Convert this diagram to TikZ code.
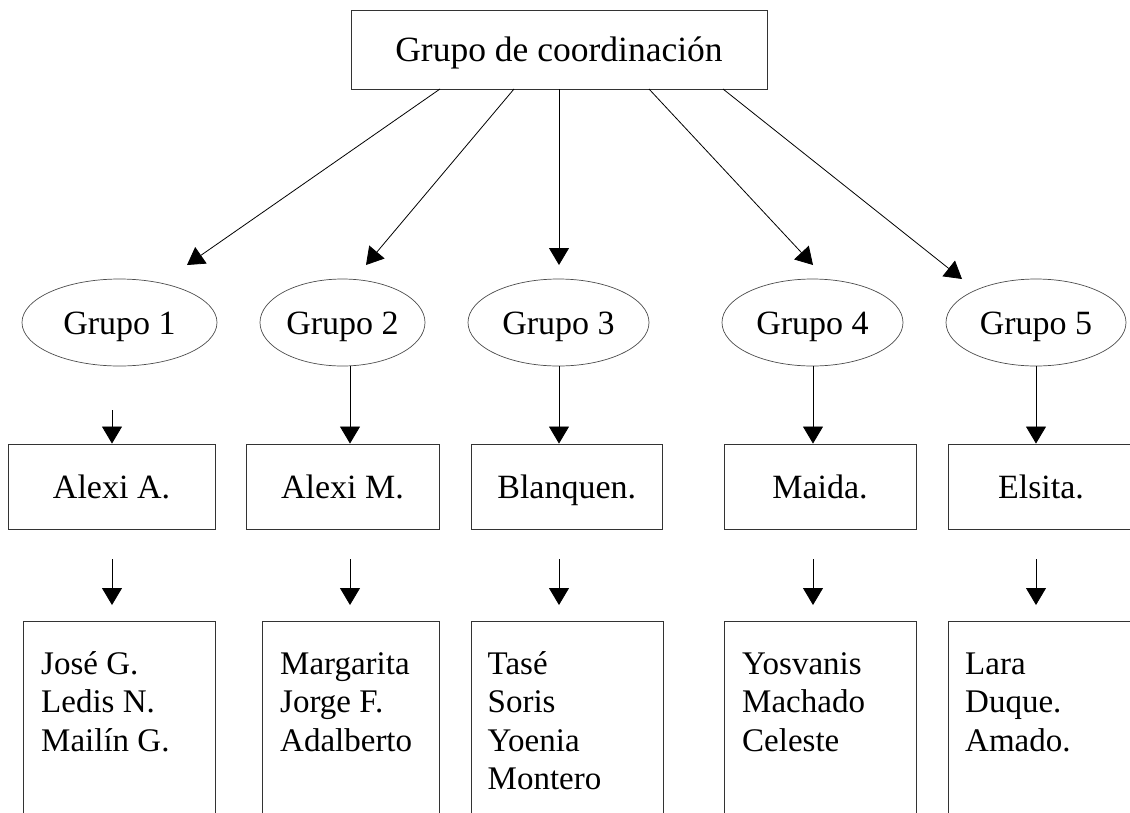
\documentclass[tikz,border=0pt]{standalone}
\usepackage{fontspec}
\setmainfont{Liberation Serif}
\usetikzlibrary{arrows.meta,calc,shapes.geometric}
\newcommand{\firststrut}{\rule{0pt}{32pt}}
\begin{document}
\begin{tikzpicture}[x=1pt,y=-1pt,
  box/.style={draw=black!80, line width=0.9pt, rectangle, inner sep=0pt},
  oval/.style={draw=black!70, line width=0.7pt, ellipse, inner sep=0pt, minimum height=87pt},
  lbl/.style={font=\fontsize{34}{40}\selectfont, text height=23pt, text depth=0pt},
  toplbl/.style={font=\fontsize{35.5}{40}\selectfont, text height=24pt, text depth=0pt},
  names/.style={align=left, inner sep=0pt, anchor=north west, font=\fontsize{33}{38.5}\selectfont},
  arr/.style={line width=0.8pt, draw=black, -{Triangle[width=20pt,length=17pt]}},
]
\useasboundingbox (0,0) rectangle (1130,812);
\clip (0,0) rectangle (1130,812);

% top box
\node[box, toplbl, minimum width=416pt, minimum height=79pt] (top) at (559,49.5) {Grupo de coordinación};

% ellipses
\node[oval, lbl, minimum width=195pt] (g1) at (119.5,322.5) {Grupo 1};
\node[oval, lbl, minimum width=165pt] (g2) at (342.5,322.5) {Grupo 2};
\node[oval, lbl, minimum width=181pt] (g3) at (558.5,322.5) {Grupo 3};
\node[oval, lbl, minimum width=181pt] (g4) at (812.5,322.5) {Grupo 4};
\node[oval, lbl, minimum width=180pt] (g5) at (1036,322.5) {Grupo 5};

% middle boxes
\node[box, lbl, minimum width=207pt, minimum height=85pt] (m1) at (111.5,486.5) {Alexi A.};
\node[box, lbl, minimum width=193pt, minimum height=85pt] (m2) at (342.5,486.5) {Alexi M.};
\node[box, lbl, minimum width=191.5pt, minimum height=85pt] (m3) at (566.75,486.5) {Blanquen.};
\node[box, lbl, minimum width=192pt, minimum height=85pt] (m4) at (820,486.5) {Maida.};
\node[box, minimum width=220pt, minimum height=85pt, anchor=west] (m5) at (948,486.5) {};
\node[lbl, inner sep=0pt] (m5t) at (1041,486.5) {Elsita.};

% bottom boxes
\node[box, anchor=north west, minimum width=192pt, minimum height=220pt] (b1) at (23,621) {};
\node[box, anchor=north west, minimum width=177pt, minimum height=220pt] (b2) at (262,621) {};
\node[box, anchor=north west, minimum width=191.5pt, minimum height=220pt] (b3) at (471,621) {};
\node[box, anchor=north west, minimum width=192pt, minimum height=220pt] (b4) at (724,621) {};
\node[box, anchor=north west, minimum width=220pt, minimum height=220pt] (b5) at (948,621) {};

\node[names] (b1t) at ($(b1.north west)+(18,21)$) {\firststrut José G.\\Ledis N.\\Mailín G.};
\node[names] (b2t) at ($(b2.north west)+(18,21)$) {\firststrut Margarita\\Jorge F.\\Adalberto};
\node[names] (b3t) at ($(b3.north west)+(16.5,21)$) {\firststrut Tasé\\Soris\\Yoenia\\Montero};
\node[names] (b4t) at ($(b4.north west)+(18,21)$) {\firststrut Yosvanis\\Machado\\Celeste};
\node[names] (b5t) at ($(b5.north west)+(17,21)$) {\firststrut Lara\\Duque.\\Amado.};

% column positions
\coordinate (x1) at (112,0);
\coordinate (x2) at (350,0);
\coordinate (x3) at (559,0);
\coordinate (x4) at (813,0);
\coordinate (x5) at (1036,0);

% top arrows
\coordinate (s1) at (440,89);
\coordinate (s2) at (514,89);
\coordinate (s4) at (649,89);
\coordinate (s5) at (723,89);
\coordinate (t1) at (187,265);
\coordinate (t2) at (366,265);
\coordinate (t3) at (559,265);
\coordinate (t4) at (813,265);
\coordinate (t5) at (962,279);
\draw[arr] (s1) -- (t1);
\draw[arr] (s2) -- (t2);
\draw[arr] (top.south) -- (t3);
\draw[arr] (s4) -- (t4);
\draw[arr] (s5) -- (t5);

% ellipse to middle boxes
\coordinate (c1) at (112,410);
\draw[arr] (c1) -- (m1.north -| x1);
\draw[arr] (g2.south -| x2) -- (m2.north -| x2);
\draw[arr] (g3.south -| x3) -- (m3.north -| x3);
\draw[arr] (g4.south -| x4) -- (m4.north -| x4);
\draw[arr] (g5.south -| x5) -- (m5.north -| x5);

% middle to bottom
\foreach \i in {1,...,5} {
  \coordinate (d\i) at ($(x\i)+(0,559)$);
  \coordinate (e\i) at ($(x\i)+(0,605)$);
  \draw[arr] (d\i) -- (e\i);
}
\end{tikzpicture}
\end{document}
